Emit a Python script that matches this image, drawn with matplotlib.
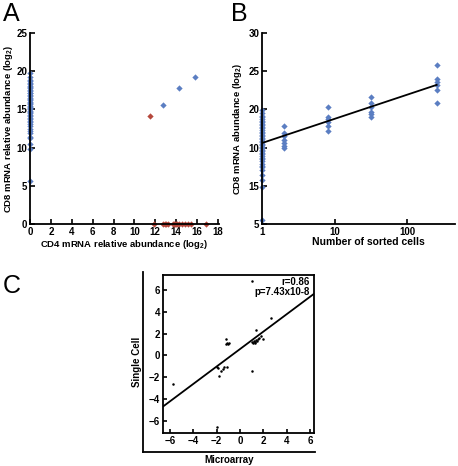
import matplotlib
matplotlib.use("Agg")
import matplotlib.pyplot as plt
import numpy as np

plt.rcParams['font.family'] = ['Liberation Sans', 'DejaVu Sans']
plt.rcParams['mathtext.default'] = 'regular'

BLUE = '#5B7EC2'
RED = '#B5483C'

# ---------------- Panel A data ----------------
a_blue_x0_y = [19.8, 19.2, 18.9, 18.7, 18.5, 18.3, 18.1, 17.9, 17.8, 17.6, 17.4, 17.2,
               17.1, 16.9, 16.7, 16.5, 16.4, 16.2, 16.0, 15.9, 15.7, 15.5, 15.3, 15.2,
               15.0, 14.8, 14.6, 14.5, 14.3, 14.1, 13.9, 13.7, 13.5, 13.3, 13.1, 12.8,
               12.5, 12.2, 11.9, 11.4, 11.2, 10.5, 9.8, 5.6]
a_blue_x = [12.7, 14.3, 15.8]
a_blue_y = [15.6, 17.8, 19.2]
a_red_x = [11.5, 11.9, 12.7, 12.9, 13.0, 13.2, 13.7, 13.8, 13.9, 14.0, 14.1, 14.3,
           14.6, 14.8, 15.1, 15.4, 16.9]
a_red_y = [14.2, 0, 0, 0, 0, 0, 0, 0, 0, 0, 0, 0, 0, 0, 0, 0, 0]
a_xticks = [0, 2, 4, 6, 8, 10, 12, 14, 16, 18]
a_yticks = [0, 5, 10, 15, 20, 25]

# ---------------- Panel B data ----------------
b_x1_y = [19.9, 19.5, 19.2, 19.0, 18.8, 18.5, 18.3, 18.1, 17.9, 17.7, 17.5, 17.3,
          17.1, 16.9, 16.7, 16.5, 16.3, 16.1, 15.9, 15.7, 15.5, 15.3, 15.1, 14.9,
          14.7, 14.5, 14.3, 14.1, 13.9, 13.7, 13.5, 13.2, 12.9, 12.6, 12.4, 12.1,
          11.4, 10.8, 9.8, 5.5]
b_x2_y = [17.8, 16.9, 16.5, 16.0, 15.6, 15.2, 15.0]
b_x8_y = [20.3, 19.0, 18.7, 18.4, 17.8, 17.2]
b_x32_y = [21.6, 20.9, 20.3, 19.7, 19.4, 19.0]
b_x256_y = [25.8, 24.0, 23.6, 23.2, 22.5, 20.9]
b_fit_intercept = 15.6
b_fit_slope = 3.16
b_yticks = [5, 10, 15, 20, 25, 30]
b_yticklabels = ['5', '15', '10', '20', '25', '30']
b_xticks = [1, 10, 100]

# ---------------- Panel C data ----------------
c_x = [1.05, 2.63, 1.37, -1.2, -1.15, -1.05, -1.2, -0.95, 1.0, 1.1, 1.2, 1.3, 1.4,
       1.5, 1.6, 1.77, 1.94, 1.25, 1.45, 1.0, -5.77, -1.95, -1.8, -2.0, -1.9, -1.65,
       -1.5, -1.37, -1.14]
c_y = [6.85, 3.4, 2.33, 1.48, 1.1, 1.05, 1.0, 1.1, 1.2, 1.15, 1.3, 1.2, 1.4, 1.5,
       1.6, 1.8, 1.49, 1.15, 1.35, -1.46, -2.65, -6.54, -1.89, -1.03, -1.2, -1.4,
       -1.25, -1.09, -1.03]
c_fit_intercept = 0.58
c_fit_slope = 0.80
c_ticks = [-6, -4, -2, 0, 2, 4, 6]

fig = plt.figure(figsize=(4.58, 4.66), dpi=100)
W, H = 458, 466

TICK_FS = 7
LABEL_FS = 6.8


def ax_at(l, r, t, b):
    return fig.add_axes([l / W, 1 - b / H, (r - l) / W, (b - t) / H])


def style(ax):
    for s in ['top', 'right']:
        ax.spines[s].set_visible(False)
    for s in ['left', 'bottom']:
        ax.spines[s].set_linewidth(1.3)
    ax.tick_params(direction='in', length=3.5, width=1.2, labelsize=TICK_FS, pad=2)
    for lab in ax.get_xticklabels() + ax.get_yticklabels():
        lab.set_fontweight('bold')


# Panel A
axA = ax_at(30, 219, 33, 224)
axA.plot([0] * len(a_blue_x0_y), a_blue_x0_y, 'D', color=BLUE, ms=3.2, mew=0, clip_on=False)
axA.plot(a_blue_x, a_blue_y, 'D', color=BLUE, ms=3.2, mew=0, clip_on=False)
axA.plot(a_red_x, a_red_y, 'D', color=RED, ms=3.2, mew=0, clip_on=False)
axA.set_xlim(0, 18.1)
axA.set_ylim(0, 25)
axA.set_xticks(a_xticks)
axA.set_yticks(a_yticks)
style(axA)
axA.set_xlabel('CD4 mRNA relative abundance (log$_2$)', fontsize=LABEL_FS, fontweight='bold', labelpad=1)
axA.set_ylabel('CD8 mRNA relative abundance (log$_2$)', fontsize=LABEL_FS, fontweight='bold', labelpad=1)

# Panel B
axB = ax_at(262, 455, 33, 224)
for xv, ys in [(1, b_x1_y), (2, b_x2_y), (8, b_x8_y), (32, b_x32_y), (256, b_x256_y)]:
    axB.plot([xv] * len(ys), ys, 'D', color=BLUE, ms=3.2, mew=0, clip_on=False)
axB.set_xscale('log')
xf = np.array([1, 256])
axB.plot(xf, b_fit_intercept + b_fit_slope * np.log10(xf), color='black', lw=1.3)
axB.set_xlim(1, 458)
axB.set_ylim(5, 30)
axB.set_yticks(b_yticks)
axB.set_yticklabels(b_yticklabels)
axB.set_xticks(b_xticks)
axB.set_xticklabels(['1', '10', '100'])
axB.xaxis.set_minor_locator(matplotlib.ticker.NullLocator())
style(axB)
axB.set_xlabel('Number of sorted cells', fontsize=7.5, fontweight='bold')
axB.xaxis.set_label_coords((368 - 262) / 193, -0.068, transform=axB.transAxes)
axB.xaxis.label.set_va('top')
axB.set_ylabel('CD8 mRNA abundance (log$_2$)', fontsize=LABEL_FS, fontweight='bold', labelpad=3)

# Panel C outer L frame
axCo = ax_at(143, 315, 272, 452)
axCo.set_xticks([])
axCo.set_yticks([])
for s in ['top', 'right']:
    axCo.spines[s].set_visible(False)
for s in ['left', 'bottom']:
    axCo.spines[s].set_linewidth(1.3)
axCo.patch.set_alpha(0)
axCo.set_xlabel('Microarray', fontsize=7, fontweight='bold', labelpad=2)
axCo.set_ylabel('Single Cell', fontsize=7, fontweight='bold', labelpad=1)

axC = ax_at(163, 314, 275, 433)
axC.plot(c_x, c_y, 'o', color='black', ms=1.8, mew=0)
xl = np.array([-6.6, 6.34])
axC.plot(xl, c_fit_intercept + c_fit_slope * xl, color='black', lw=1.3)
axC.set_xlim(-6.6, 6.34)
axC.set_ylim(-7.13, 7.38)
axC.set_xticks(c_ticks)
axC.set_yticks(c_ticks)
axC.tick_params(direction='in', length=3, width=1.2, labelsize=7, pad=2)
for s in axC.spines.values():
    s.set_linewidth(1.3)
for lab in axC.get_xticklabels() + axC.get_yticklabels():
    lab.set_fontweight('bold')
axC.text(0.97, 0.985, 'r=0.86\np=7.43x10-8', transform=axC.transAxes, ha='right', va='top',
         fontsize=7, fontweight='bold', linespacing=0.95)

# Panel letters
fig.text(3 / W, 1 - 2 / H, 'A', fontsize=18, va='top', ha='left')
fig.text(231 / W, 1 - 2 / H, 'B', fontsize=18, va='top', ha='left')
fig.text(3 / W, 1 - 274 / H, 'C', fontsize=18, va='top', ha='left')

fig.savefig('out.png', dpi=100)
